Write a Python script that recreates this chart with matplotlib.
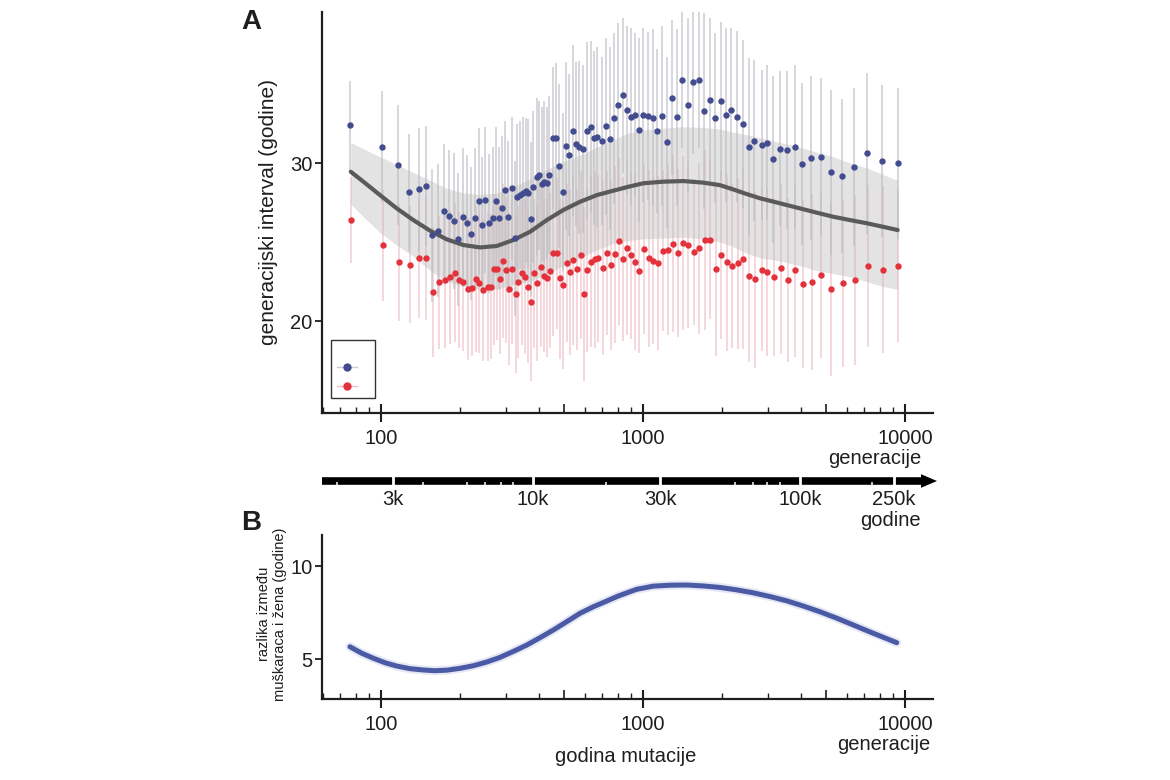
import numpy as np
import matplotlib
matplotlib.use('Agg')
import matplotlib.pyplot as plt
from matplotlib.lines import Line2D
from matplotlib.patches import FancyArrow, Rectangle
from matplotlib.ticker import FixedLocator, NullFormatter, LogLocator

plt.rcParams['font.family'] = ['Liberation Sans', 'DejaVu Sans']

# ---------------- data ----------------
male_gen = [76, 101, 116, 128, 139, 148, 157, 165, 174, 182,
            190, 197, 206, 213, 220, 228, 236, 242, 249, 259,
            268, 275, 282, 289, 297, 306, 315, 325, 331, 339,
            347, 357, 365, 373, 381, 393, 402, 411, 420, 429,
            439, 452, 466, 479, 494, 508, 523, 539, 555, 571,
            592, 613, 632, 650, 669, 696, 722, 748, 775, 801,
            837, 867, 897, 930, 965, 1002, 1045, 1089, 1134, 1185,
            1238, 1293, 1352, 1413, 1481, 1556, 1632, 1709, 1797, 1888,
            1980, 2074, 2173, 2285, 2402, 2532, 2660, 2839, 2966, 3143,
            3334, 3555, 3793, 4055, 4389, 4767, 5219, 5749, 6388, 7181,
            8192, 9378]
male_val = [32.39, 31.03, 29.87, 28.16, 28.34, 28.56, 25.42, 25.72, 26.98, 26.65,
            26.35, 25.17, 26.56, 26.18, 25.53, 26.54, 27.59, 26.08, 27.66, 26.18,
            26.50, 27.61, 26.52, 27.13, 28.29, 26.60, 28.44, 25.23, 27.87, 27.97,
            28.12, 28.25, 28.08, 26.46, 28.50, 29.09, 29.22, 28.67, 28.82, 28.72,
            29.24, 31.56, 31.56, 29.81, 28.18, 31.08, 30.51, 32.04, 31.20, 30.99,
            30.89, 32.04, 32.30, 31.56, 31.66, 31.41, 32.34, 31.54, 32.83, 33.67,
            34.30, 33.35, 32.93, 33.06, 32.09, 33.04, 32.97, 32.87, 32.03, 32.97,
            31.31, 34.13, 32.91, 35.25, 33.65, 35.15, 35.25, 33.31, 33.99, 32.85,
            33.94, 33.02, 33.35, 32.93, 32.47, 31.03, 31.41, 31.12, 31.28, 30.23,
            30.91, 30.80, 31.03, 29.94, 30.30, 30.36, 29.41, 29.18, 29.73, 30.61,
            30.11, 29.98]
male_err = [2.8, 3.5, 3.8, 3.7, 3.9, 3.8, 4.2, 4.2, 4.2, 4.2, 4.3, 4.2, 4.4, 4.3, 4.2, 4.4, 4.6,
            4.3, 4.6, 4.4, 4.5, 4.7, 4.5, 4.6, 4.4, 4.8, 4.5, 4.9, 4.6, 4.7, 4.8, 4.6, 4.7, 4.9,
            4.8, 5.0, 4.7, 4.9, 5.1, 4.8, 5.0, 4.5, 4.8,
            5.2, 5.0, 5.3, 5.1, 5.4, 5.2, 5.5, 5.3, 5.6, 5.4, 5.5, 5.7, 5.3, 5.6, 5.8, 5.4, 5.2,
            4.9, 5.3, 5.6, 5.2, 5.8, 5.5, 5.3, 5.6, 5.2, 5.7, 5.4, 4.9, 5.6, 4.3, 5.5, 4.6, 4.3,
            6.2, 5.2, 5.4, 5.0, 5.5, 5.2, 5.4, 5.3, 5.6, 5.1,
            4.8, 4.9, 5.3, 4.9, 5.0, 5.2, 5.1, 5.2, 5.0, 5.2, 4.9, 5.0, 5.1, 4.8, 4.8]

female_gen = [77, 102, 117, 129, 140, 149, 158, 167, 176, 183,
              192, 199, 206, 214, 222, 230, 237, 246, 255, 262,
              270, 277, 285, 292, 300, 309, 317, 326, 334, 344,
              355, 365, 374, 384, 395, 407, 419, 429, 442, 455,
              469, 482, 497, 512, 527, 542, 558, 578, 596, 613,
              635, 654, 673, 702, 727, 753, 780, 808, 837, 867,
              900, 935, 968, 1009, 1051, 1095, 1141, 1189, 1245, 1301,
              1360, 1421, 1489, 1561, 1636, 1720, 1802, 1895, 1991, 2087,
              2192, 2299, 2414, 2540, 2669, 2839, 2982, 3155, 3355, 3568,
              3804, 4091, 4416, 4792, 5232, 5785, 6427, 7205, 8221, 9428]
female_val = [26.39, 24.79, 23.73, 23.56, 24.01, 23.97, 21.85, 22.45, 22.59, 22.77,
              23.06, 22.59, 22.49, 22.04, 22.07, 22.66, 22.39, 21.96, 22.17, 22.17,
              23.27, 23.27, 22.64, 23.80, 23.23, 22.01, 23.27, 21.71, 22.49, 23.06,
              22.80, 22.17, 21.22, 23.02, 22.39, 23.44, 22.85, 22.74, 23.18, 24.28,
              24.28, 22.70, 22.28, 23.65, 23.08, 23.86, 23.27, 24.18, 21.71, 23.23,
              23.75, 23.91, 23.97, 23.37, 24.32, 23.54, 24.24, 25.04, 23.91, 24.62,
              24.16, 23.75, 23.18, 24.56, 23.97, 23.82, 23.69, 24.45, 24.49, 24.89,
              24.32, 24.96, 24.79, 24.37, 24.60, 25.11, 25.15, 23.31, 24.18, 23.72,
              23.48, 23.65, 23.92, 22.83, 22.64, 23.23, 23.08, 22.78, 23.34, 22.58,
              23.23, 22.34, 22.47, 22.89, 22.03, 22.41, 22.59, 23.48, 23.25, 23.48]
female_err = [2.7, 3.5, 3.7, 3.7, 3.8, 3.9, 4.1, 4.2, 4.3, 4.2, 4.4, 4.3, 4.4, 4.5, 4.3, 4.6, 4.4,
              4.5, 4.7, 4.6, 4.8, 4.5, 4.7, 4.9, 4.6, 4.8, 4.7, 5.0, 4.8, 4.6, 4.9, 4.8, 5.0, 4.7,
              4.9, 5.1, 4.8, 5.0, 4.9, 5.2, 4.8,
              5.1, 5.3, 5.0, 5.2, 5.4, 5.1, 5.3, 5.5, 5.2, 5.4, 5.6, 5.3, 5.5, 5.2, 5.4, 5.6, 5.3,
              5.2, 5.5, 5.3, 5.6, 5.2, 5.4, 5.6, 5.3, 5.5, 5.1, 5.4, 5.6, 5.3, 5.5, 5.2, 4.6, 5.4,
              5.7, 5.0, 5.5, 5.3, 5.6, 5.2, 5.4, 5.7, 5.4, 5.6,
              5.1, 5.3, 5.0, 5.4, 5.2, 5.5, 5.3, 5.6, 5.2, 5.5, 5.3, 5.4, 5.1, 5.3, 4.8]

fit_gen = [76.6, 85.6, 99.1, 114.8, 132.8, 153.8, 178.2, 206.2, 238.8, 276.5, 319.9, 370.5,
           429.1, 496.5, 574.9, 665.7, 770.2, 879.1, 1002.5, 1192, 1425, 1699, 1967, 2211,
           2473, 2797, 3334, 3973, 4576, 5325, 6167, 7142, 8170, 9378]
fit_mean = [29.45, 28.82, 27.97, 27.13, 26.39, 25.72, 25.17, 24.81, 24.66, 24.75, 25.13, 25.65,
            26.39, 27.03, 27.55, 27.97, 28.25, 28.50, 28.72, 28.82, 28.86, 28.76, 28.60, 28.33,
            28.05, 27.77, 27.45, 27.13, 26.87, 26.60, 26.39, 26.19, 25.98, 25.76]
fit_upper = [31.3, 30.9, 30.4, 29.9, 29.4, 28.9, 28.4, 28.1, 28.0, 28.1, 28.5, 29.0, 29.6, 30.1,
             30.5, 31.0, 31.5, 31.9, 32.1, 32.2, 32.3, 32.25, 32.15, 31.95, 31.8, 31.6, 31.3,
             31.0, 30.7, 30.4, 30.0, 29.7, 29.3, 28.9]
fit_lower = [27.4, 26.6, 25.6, 24.8, 24.1, 23.2, 22.5, 22.2, 22.0, 22.0, 22.3, 22.5, 23.0, 23.5,
             24.0, 24.5, 24.9, 25.1, 25.2, 25.25, 25.3, 25.2, 25.0, 24.7, 24.3, 24.0, 23.8,
             23.5, 23.2, 23.0, 22.8, 22.5, 22.2, 22.0]

diff_gen = [76.1, 84.4, 93.5, 103.6, 114.8, 129.0, 145.0, 160.7, 178.2, 200.4, 225.0, 253.2,
            284.6, 319.9, 359.8, 404.6, 454.6, 511.6, 574.9, 646.0, 727.2, 804.8, 891.9, 946,
            1095, 1268, 1468, 1699, 1967, 2278, 2636, 3052, 3536, 4091, 4739, 5483, 6350,
            7142, 8028, 9297]
diff_val = [5.66, 5.31, 5.04, 4.80, 4.62, 4.48, 4.41, 4.37, 4.40, 4.50, 4.64, 4.84,
            5.09, 5.41, 5.75, 6.15, 6.56, 7.01, 7.46, 7.81, 8.12, 8.39, 8.62, 8.75,
            8.92, 8.97, 8.98, 8.93, 8.85, 8.72, 8.56, 8.36, 8.13, 7.85, 7.54, 7.20, 6.83,
            6.53, 6.24, 5.88]

x_major = [100, 1000, 10000]
x_major_labels = ['100', '1000', '10000']
x_mid = [500, 5000]
yA_ticks = [20, 30]
yB_ticks = [5, 10]
year_labels = ['3k', '10k', '30k', '100k', '250k']
year_gen = [111, 380, 1164, 3981, 9078]
year_minor_gen = [68, 145, 212, 250, 287, 320, 724, 2239, 2630, 2966, 3342, 7482]

XLIM = (59.5, 12790)
BLUE = '#434c8f'
RED = '#e3323c'
DARK = '#1e1e1e'

W, H = 1170, 780
fig = plt.figure(figsize=(W / 100, H / 100), dpi=100)


def fx(px):
    return px / W


def fy(py):
    return 1 - py / H


def style_axis(ax, height_px, yticks):
    ax.set_xscale('log')
    ax.set_xlim(*XLIM)
    for s in ['top', 'right']:
        ax.spines[s].set_visible(False)
    for s in ['left', 'bottom']:
        ax.spines[s].set_linewidth(1.6)
        ax.spines[s].set_color(DARK)
    ax.xaxis.set_major_locator(FixedLocator(x_major))
    ax.set_xticklabels(x_major_labels)
    ax.xaxis.set_minor_locator(LogLocator(base=10, subs=[2, 3, 4, 6, 7, 8, 9]))
    ax.xaxis.set_minor_formatter(NullFormatter())
    ax.tick_params(axis='x', which='major', direction='inout', length=13, width=1.5,
                   labelsize=14.5, pad=5, colors=DARK)
    ax.tick_params(axis='x', which='minor', direction='in', length=4.5, width=1.0, colors=DARK)
    ax.vlines(x_mid, 0, 9.5 / height_px, transform=ax.get_xaxis_transform(),
              colors=DARK, lw=1.2, clip_on=False)
    ax.set_yticks(yticks)
    ax.tick_params(axis='y', which='major', direction='out', length=5, width=1.3,
                   labelsize=14.5, pad=2, colors=DARK)
    ax.tick_params(axis='y', which='minor', left=False)


# ---------------- panel A ----------------
axA = fig.add_axes([fx(322), fy(413), fx(933) - fx(322), fy(12) - fy(413)])
style_axis(axA, 401, yA_ticks)
axA.set_ylim(14.18, 39.56)

mg = np.array(male_gen); mv = np.array(male_val); me = np.array(male_err)
fg = np.array(female_gen); fv = np.array(female_val); fe = np.array(female_err)

axA.vlines(fg, fv - fe, fv + fe, colors='#f0c3c9', lw=1.25, alpha=0.75, zorder=1)
axA.vlines(mg, mv - me, mv + me, colors='#c2c2ca', lw=1.25, alpha=0.75, zorder=1.1)
axA.fill_between(fit_gen, fit_lower, fit_upper, color='#bdbdbd', alpha=0.42, lw=0, zorder=2)
axA.plot(fit_gen, fit_mean, color='#5a5a5a', lw=3.0, zorder=3,
         solid_capstyle='round', solid_joinstyle='round')
axA.plot(mg, mv, 'o', color=BLUE, ms=4.6, mec='none', zorder=4)
axA.plot(fg, fv, 'o', color=RED, ms=4.6, mec='none', zorder=4)

# legend (frame drawn as a fixed box, entries without text)
axA.add_patch(Rectangle((9 / 611, 15 / 401), 44 / 611, 58 / 401, transform=axA.transAxes,
                        fill=False, ec='#333333', lw=1.0, zorder=5))
handles = [Line2D([], [], color='#c9cade', lw=1.0, marker='o', ms=6, mfc=BLUE, mec='none'),
           Line2D([], [], color='#f2c0c6', lw=1.0, marker='o', ms=6, mfc=RED, mec='none')]
leg = axA.legend(handles, ['', ''], loc='center', bbox_to_anchor=(25 / 611, 36 / 401),
                 borderaxespad=0, frameon=False, handlelength=1.4, handletextpad=0.0,
                 borderpad=0, labelspacing=0.35, fontsize=10)

fig.text(fx(268), fy(212), 'generacijski interval (godine)', rotation=90,
         ha='center', va='center', fontsize=15, color=DARK)
fig.text(fx(921), fy(458), 'generacije', ha='right', va='center', fontsize=14.5, color=DARK)
fig.text(fx(251), fy(22), 'A', ha='center', va='center', fontsize=20, fontweight='bold', color=DARK)

# ---------------- time arrow ----------------
axT = fig.add_axes([fx(322), fy(491), fx(933) - fx(322), 20 / H])
axT.set_xscale('log')
axT.set_xlim(*XLIM)
axT.set_ylim(0, 1)
axT.axis('off')
arrow = FancyArrow(0, 0.5, 615 / 611, 0, width=0.38, head_width=0.68, head_length=16 / 611,
                   length_includes_head=True, transform=axT.transAxes, color='black',
                   lw=0, clip_on=False)
axT.add_patch(arrow)
axT.vlines(year_gen, 0.25, 0.75, colors='white', lw=2.0, zorder=3)
axT.vlines(year_minor_gen, 0.28, 0.45, colors='white', lw=1.1, zorder=3)
for g, lab in zip(year_gen, year_labels):
    axT.text(g, -0.42, lab, ha='center', va='center', fontsize=14.5, color=DARK, clip_on=False)
fig.text(fx(921), fy(520), 'godine', ha='right', va='center', fontsize=14.5, color=DARK)

# ---------------- panel B ----------------
axB = fig.add_axes([fx(322), fy(699), fx(933) - fx(322), fy(535) - fy(699)])
style_axis(axB, 164, yB_ticks)
axB.set_ylim(2.85, 11.67)
axB.plot(diff_gen, diff_val, color='#9aa6d6', lw=6.5, alpha=0.25,
         solid_capstyle='round', solid_joinstyle='round')
axB.plot(diff_gen, diff_val, color='#4b5aa5', lw=3.6,
         solid_capstyle='round', solid_joinstyle='round')

fig.text(fx(272), fy(614), 'razlika između\nmuškaraca i žena (godine)', rotation=90,
         ha='center', va='center', fontsize=10.5, color=DARK, linespacing=1.15)
fig.text(fx(930), fy(745), 'generacije', ha='right', va='center', fontsize=14.5, color=DARK)
fig.text(fx(626), fy(757), 'godina mutacije', ha='center', va='center', fontsize=14.5, color=DARK)
fig.text(fx(251), fy(523), 'B', ha='center', va='center', fontsize=20, fontweight='bold', color=DARK)

fig.savefig('out.png', dpi=100, facecolor='white')
